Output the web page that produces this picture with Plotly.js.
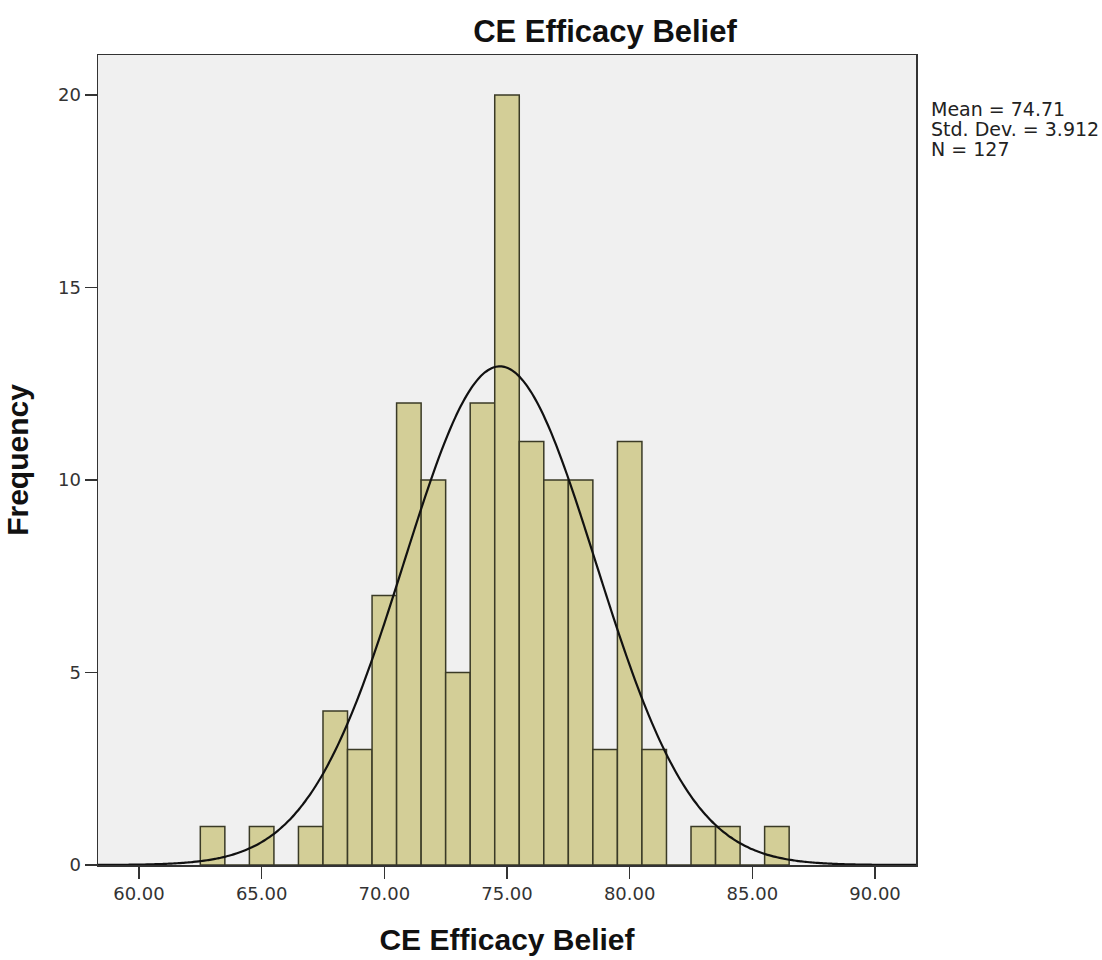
<!DOCTYPE html>
<html>
<head>
<meta charset="utf-8">
<script src="https://cdn.plot.ly/plotly-3.0.1.min.js"></script>
<style>html,body{margin:0;padding:0;background:#fff;}#chart{width:1102px;height:960px;}</style>
</head>
<body>
<div id="chart"></div>
<script>
// Histogram bins (centres, width 1) and frequencies
const binCenters = [63,64,65,66,67,68,69,70,71,72,73,74,75,76,77,78,79,80,81,82,83,84,85,86];
const frequencies = [1,0,1,0,1,4,3,7,12,10,5,12,20,11,10,10,3,11,3,0,1,1,0,1];
const binWidth = 1;
// Summary statistics printed on the chart
const statMean = 74.71;
const statSD = 3.912;
const statN = 127;
const statLines = ['Mean = 74.71', 'Std. Dev. = 3.912', 'N = 127'];
const xTickVals = [60,65,70,75,80,85,90];
const yTickVals = [0,5,10,15,20];
const xRange = [58.33, 91.67];
const yRange = [0, 21.04];

// Fitted normal curve defined by the displayed mean, SD and N
const curveX = [], curveY = [];
const steps = 300;
for (let i = 0; i <= steps; i++) {
  const x = xRange[0] + (xRange[1] - xRange[0]) * i / steps;
  const z = (x - statMean) / statSD;
  curveX.push(x);
  curveY.push(statN * binWidth * Math.exp(-0.5 * z * z) / (statSD * Math.sqrt(2 * Math.PI)));
}

const boldFont = "'Liberation Sans', Arial, sans-serif";
const textFont = "'DejaVu Sans', 'Liberation Sans', Arial, sans-serif";

const traces = [
  {
    type: 'bar',
    x: binCenters,
    y: frequencies,
    width: binWidth,
    marker: {color: '#d3ce97', line: {color: '#3a3a26', width: 1.5}},
    hoverinfo: 'x+y'
  },
  {
    type: 'scatter',
    mode: 'lines',
    x: curveX,
    y: curveY,
    line: {color: '#111111', width: 2.2, shape: 'spline'},
    hoverinfo: 'skip'
  }
];

// stats text lines, one annotation per line (baseline spacing ~20px)
const plotTop = 55, plotBottom = 865;
const statCenters = [109, 129, 149];
const statAnnotations = statLines.map((t, i) => ({
  xref: 'paper', yref: 'paper',
  x: 1.016, y: (plotBottom - statCenters[i]) / (plotBottom - plotTop),
  xanchor: 'left', yanchor: 'middle',
  align: 'left',
  showarrow: false,
  text: t,
  font: {family: textFont, size: 19, color: '#222'}
}));

const layout = {
  width: 1102,
  height: 960,
  showlegend: false,
  paper_bgcolor: '#ffffff',
  plot_bgcolor: '#f0f0f0',
  margin: {l: 98, r: 186, t: 55, b: 95},
  bargap: 0,
  font: {family: textFont, color: '#222'},
  title: {
    text: '<b>CE Efficacy Belief</b>',
    x: 0.549, xanchor: 'center',
    y: 0.968, yanchor: 'middle',
    font: {family: boldFont, size: 31, color: '#111'}
  },
  xaxis: {
    range: xRange,
    tickvals: xTickVals,
    tickformat: '.2f',
    ticks: 'outside',
    ticklen: 12,
    tickwidth: 1.5,
    tickcolor: '#333',
    showgrid: false,
    zeroline: false,
    showline: true,
    mirror: true,
    linecolor: '#333',
    linewidth: 1.5,
    tickfont: {family: textFont, size: 18, color: '#333'},
    title: {text: '<b>CE Efficacy Belief</b>', font: {family: boldFont, size: 30, color: '#111'}, standoff: 26}
  },
  yaxis: {
    range: yRange,
    tickvals: yTickVals,
    ticks: 'outside',
    ticklen: 12,
    tickwidth: 1.5,
    tickcolor: '#333',
    showgrid: false,
    zeroline: false,
    showline: true,
    mirror: true,
    linecolor: '#333',
    linewidth: 1.5,
    tickfont: {family: textFont, size: 18, color: '#333'},
    title: {text: '<b>Frequency</b>', font: {family: boldFont, size: 30, color: '#111'}, standoff: 20}
  },
  annotations: statAnnotations
};

Plotly.newPlot('chart', traces, layout, {displayModeBar: false, staticPlot: true});
</script>
</body>
</html>
